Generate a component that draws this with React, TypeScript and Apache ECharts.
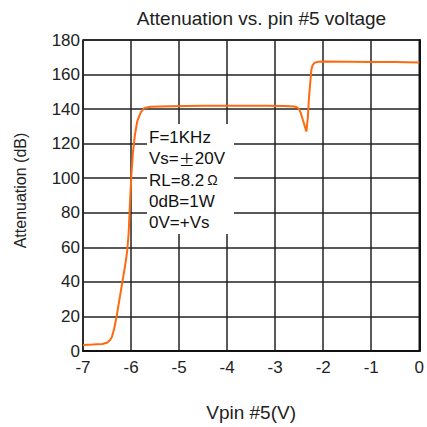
import React, { useEffect, useRef } from "react";
import * as echarts from "echarts";

const titleText = "Attenuation vs. pin #5 voltage";
const xName = "Vpin #5(V)";
const yName = "Attenuation (dB)";
const noteLines = ["F=1KHz", "Vs={pm|±}20V", "RL=8.2{om|Ω}", "0dB=1W", "0V=+Vs"];

const voltage = [
  -7.0, -6.8, -6.6, -6.5, -6.44, -6.4, -6.35, -6.3, -6.24, -6.18, -6.12, -6.08, -6.05, -6.02,
  -5.99, -5.96, -5.92, -5.87, -5.8, -5.73, -5.6, -5.2, -4.5, -4.0, -3.2, -2.8, -2.6, -2.54,
  -2.5, -2.47, -2.41, -2.35, -2.32, -2.3, -2.27, -2.245, -2.22, -2.18, -2.1, -2.0, -1.5, -1.0,
  -0.5, 0.0,
];
const attenuation = [
  3.5, 3.7, 4.1, 4.8, 6.2, 8, 13, 20, 30, 40, 50, 58, 68, 87,
  103, 115, 125, 133, 138, 140.5, 141.4, 141.7, 141.9, 142, 142, 141.8, 141.5, 141,
  139.8, 138, 132.5, 127, 135, 145, 155, 163, 165.5, 166.8, 167.4, 167.5, 167.4, 167.3,
  167.2, 167,
];

const FONT = "'Liberation Sans', Arial, sans-serif";

export default function App() {
  const ref = useRef<HTMLDivElement>(null);
  useEffect(() => {
    document.body.style.margin = "0";
    if (!ref.current) return;
    const chart = echarts.init(ref.current, null, { renderer: "svg" });
    chart.setOption({
      animation: false,
      backgroundColor: "#ffffff",
      title: {
        text: titleText,
        left: 256.5,
        top: 4,
        textAlign: "center",
        textStyle: { fontFamily: FONT, fontSize: 19, fontWeight: "normal", color: "#222" },
      },
      grid: {
        left: 83,
        right: 2.5,
        top: 40,
        bottom: 76,
        show: true,
        borderColor: "#111",
        borderWidth: 1.5,
        backgroundColor: "transparent",
      },
      xAxis: {
        type: "value",
        min: -7,
        max: 0,
        interval: 1,
        name: xName,
        nameLocation: "middle",
        nameGap: 52,
        nameTextStyle: { fontFamily: FONT, fontSize: 19, color: "#222" },
        axisLine: { show: true, lineStyle: { color: "#111", width: 2 } },
        axisTick: { show: false },
        axisLabel: { fontFamily: FONT, fontSize: 17, color: "#222", margin: 8 },
        splitLine: { show: true, lineStyle: { color: "#222", width: 1.5 } },
      },
      yAxis: {
        type: "value",
        min: 0,
        max: 180,
        interval: 20,
        name: yName,
        nameLocation: "middle",
        nameGap: 55,
        nameTextStyle: { fontFamily: FONT, fontSize: 16, color: "#222", padding: [0, 0, 0, 10] },
        axisLine: { show: true, lineStyle: { color: "#111", width: 2 } },
        axisTick: { show: false },
        axisLabel: { fontFamily: FONT, fontSize: 17, color: "#222", margin: 3 },
        splitLine: { show: true, lineStyle: { color: "#222", width: 1.5 } },
      },
      graphic: [
        {
          type: "group",
          z: 1,
          children: [
            {
              type: "rect",
              shape: { x: 147, y: 124, width: 87, height: 110 },
              style: { fill: "#ffffff" },
              z: 1,
            },
            {
              type: "text",
              x: 149,
              y: 127,
              z: 2,
              style: {
                text: noteLines.join("\n"),
                fontFamily: FONT,
                fontSize: 17,
                lineHeight: 21.2,
                fill: "#111",
                rich: {
                  pm: { fontFamily: "'Noto Sans CJK SC'", fontSize: 16, fill: "#111", lineHeight: 21.2 },
                  om: { fontFamily: FONT, fontSize: 14, fill: "#111", padding: [0, 0, 0, 3], lineHeight: 21.2 },
                },
              },
            },
          ],
        },
      ],
      series: [
        {
          type: "line",
          data: voltage.map((v, i) => [v, attenuation[i]]),
          showSymbol: false,
          symbol: "none",
          z: 3,
          lineStyle: { color: "#ff6a10", width: 2 },
        },
      ],
    });
    return () => chart.dispose();
  }, []);
  return (
    <div
      ref={ref}
      style={{ position: "absolute", left: 0, top: 0, width: 427, height: 427 }}
    />
  );
}
